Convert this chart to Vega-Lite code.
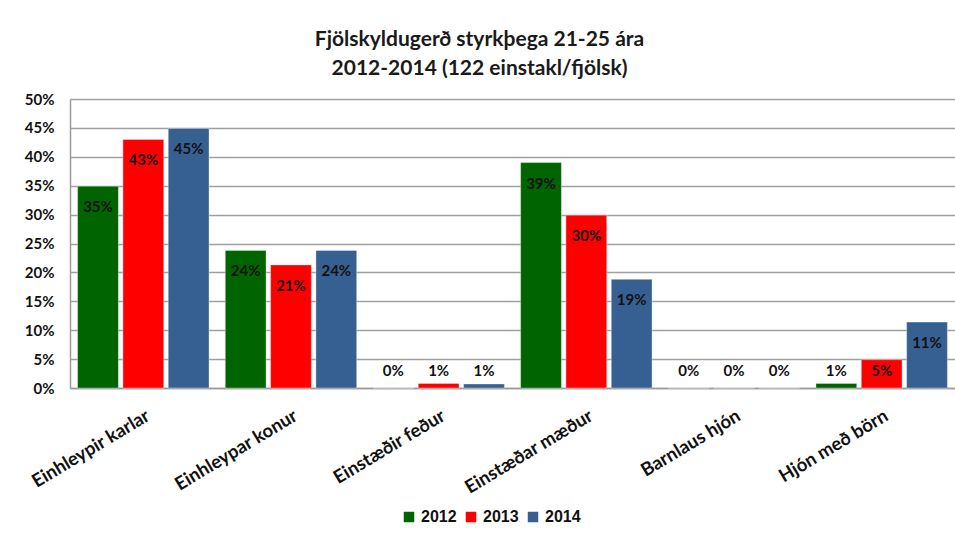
{
  "$schema": "https://vega.github.io/schema/vega-lite/v6.json",
  "autosize": "none",
  "width": 885,
  "height": 289,
  "padding": {"left": 70, "top": 99, "right": 0, "bottom": 152},
  "background": "white",
  "title": {
    "text": ["Fjölskyldugerð styrkþega 21-25 ára", "2012-2014 (122 einstakl/fjölsk)"],
    "font": "Lato",
    "fontSize": 21,
    "fontWeight": "bold",
    "color": "#1a1a1a",
    "lineHeight": 29,
    "anchor": "middle",
    "dx": -33,
    "offset": 13
  },
  "data": {
    "values": [
      {"kind": "Einhleypir karlar", "year": "2012", "v": 0.349},
      {"kind": "Einhleypir karlar", "year": "2013", "v": 0.430},
      {"kind": "Einhleypir karlar", "year": "2014", "v": 0.449},
      {"kind": "Einhleypar konur", "year": "2012", "v": 0.238},
      {"kind": "Einhleypar konur", "year": "2013", "v": 0.213},
      {"kind": "Einhleypar konur", "year": "2014", "v": 0.238},
      {"kind": "Einstæðir feður", "year": "2012", "v": 0.0},
      {"kind": "Einstæðir feður", "year": "2013", "v": 0.008},
      {"kind": "Einstæðir feður", "year": "2014", "v": 0.007},
      {"kind": "Einstæðar mæður", "year": "2012", "v": 0.390},
      {"kind": "Einstæðar mæður", "year": "2013", "v": 0.299},
      {"kind": "Einstæðar mæður", "year": "2014", "v": 0.188},
      {"kind": "Barnlaus hjón", "year": "2012", "v": 0.0},
      {"kind": "Barnlaus hjón", "year": "2013", "v": 0.0},
      {"kind": "Barnlaus hjón", "year": "2014", "v": 0.0},
      {"kind": "Hjón með börn", "year": "2012", "v": 0.008},
      {"kind": "Hjón með börn", "year": "2013", "v": 0.049},
      {"kind": "Hjón með börn", "year": "2014", "v": 0.114}
    ]
  },
  "encoding": {
    "x": {
      "field": "kind",
      "type": "nominal",
      "sort": null,
      "scale": {"paddingInner": 0.11, "paddingOuter": 0.0515},
      "axis": {
        "title": null,
        "labelAngle": -31,
        "labelFont": "Lato",
        "labelFontWeight": "bold",
        "labelFontSize": 18.5,
        "labelColor": "#111",
        "labelPadding": 18,
        "labelOverlap": false,
        "ticks": false,
        "domainColor": "#9a9a9a",
        "domainWidth": 1.5
      }
    },
    "xOffset": {"field": "year", "type": "nominal", "scale": {"paddingInner": 0.1, "paddingOuter": 0}}
  },
  "layer": [
    {
      "mark": {"type": "bar", "stroke": "#ffffff", "strokeOpacity": 0.35, "strokeWidth": 1},
      "encoding": {
        "y": {
          "field": "v",
          "type": "quantitative",
          "scale": {"domain": [0, 0.5], "nice": false},
          "axis": {
            "title": null,
            "values": [0, 0.05, 0.1, 0.15, 0.2, 0.25, 0.3, 0.35, 0.4, 0.45, 0.5],
            "format": ".0%",
            "labelOverlap": false,
            "labelFont": "Lato",
            "labelFontWeight": "bold",
            "labelFontSize": 15,
            "labelColor": "#111",
            "labelPadding": 16,
            "ticks": false,
            "domainColor": "#9a9a9a",
            "domainWidth": 1.5,
            "gridColor": "#a0a0a0",
            "gridWidth": 1.5
          }
        },
        "color": {
          "field": "year",
          "type": "nominal",
          "scale": {"domain": ["2012", "2013", "2014"], "range": ["#006400", "#ff0000", "#376092"]},
          "legend": {
            "title": null,
            "orient": "none",
            "direction": "horizontal",
            "legendX": 331,
            "legendY": 410,
            "symbolType": "square",
            "symbolSize": 110,
            "symbolOpacity": 1,
            "symbolStrokeWidth": 0,
            "labelFont": "Liberation Sans",
            "labelFontWeight": "bold",
            "labelFontSize": 16,
            "labelColor": "#111",
            "labelOffset": 4,
            "columnPadding": 6
          }
        }
      }
    },
    {
      "transform": [{"filter": "datum.v >= 0.065"}],
      "mark": {"type": "text", "baseline": "middle", "dy": 21, "font": "Lato", "fontWeight": "bold", "fontSize": 15, "color": "#111"},
      "encoding": {
        "y": {
          "field": "v",
          "type": "quantitative",
          "axis": {
            "title": null,
            "values": [0, 0.05, 0.1, 0.15, 0.2, 0.25, 0.3, 0.35, 0.4, 0.45, 0.5],
            "format": ".0%",
            "labelOverlap": false,
            "labelFont": "Lato",
            "labelFontWeight": "bold",
            "labelFontSize": 15,
            "labelColor": "#111",
            "labelPadding": 16,
            "ticks": false,
            "domainColor": "#9a9a9a",
            "domainWidth": 1.5,
            "gridColor": "#a0a0a0",
            "gridWidth": 1.5
          }
        },
        "text": {"field": "v", "type": "quantitative", "format": ".0%"}
      }
    },
    {
      "transform": [{"filter": "datum.v < 0.065"}],
      "mark": {"type": "text", "baseline": "middle", "dy": -17, "font": "Lato", "fontWeight": "bold", "fontSize": 15, "color": "#111"},
      "encoding": {
        "y": {
          "datum": 0,
          "type": "quantitative",
          "axis": {
            "title": null,
            "values": [0, 0.05, 0.1, 0.15, 0.2, 0.25, 0.3, 0.35, 0.4, 0.45, 0.5],
            "format": ".0%",
            "labelOverlap": false,
            "labelFont": "Lato",
            "labelFontWeight": "bold",
            "labelFontSize": 15,
            "labelColor": "#111",
            "labelPadding": 16,
            "ticks": false,
            "domainColor": "#9a9a9a",
            "domainWidth": 1.5,
            "gridColor": "#a0a0a0",
            "gridWidth": 1.5
          }
        },
        "text": {"field": "v", "type": "quantitative", "format": ".0%"}
      }
    }
  ],
  "config": {
    "view": {"stroke": null}
  }
}
